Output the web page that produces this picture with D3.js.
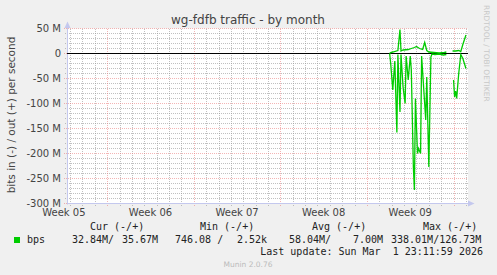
<!DOCTYPE html>
<html>
<head>
<meta charset="utf-8">
<script src="https://cdn.jsdelivr.net/npm/d3@7"></script>
<style>
  body { margin: 0; background: #f0f0f0; }
  svg { display: block; }
  text { font-family: "DejaVu Sans", sans-serif; }
  .mono { font-family: "DejaVu Sans Mono", monospace; font-size: 10px; fill: #222; white-space: pre; }
</style>
</head>
<body>
<svg width="497" height="275"></svg>
<script>
// values in Mbit/s
var outTimes = ["02-24 20","02-24 22","02-25 02","02-25 12","02-25 16","02-25 18","02-25 22","02-26 08",
  "02-26 14","02-26 20","02-27 00","02-27 06","02-27 12","02-27 16","02-27 20","02-28 00","02-28 10",
  "02-28 20","03-01 06","03-01 10","03-01 16","03-01 22","03-02 04","03-02 10","03-02 14","03-02 18","03-03 00"];
var outValues = [0, 2, 3, 6, 48, 5, 7, 8, 10, 12, 14, 10, 8, 22, 6, 3, 2, 1, 2, 3, null, 5, 5, 6, 4, 18, 37];

var inTimes = ["02-24 20","02-24 22","02-25 02","02-25 06","02-25 10","02-25 12","02-25 16","02-25 18",
  "02-25 22","02-26 02","02-26 04","02-26 08","02-26 12","02-26 14","02-26 18","02-26 20","02-26 22",
  "02-27 02","02-27 04","02-27 08","02-27 10","02-27 18","02-27 20","02-28 00","02-28 04","02-28 06",
  "02-28 12","02-28 20","03-01 04","03-01 10","03-01 16","03-02 00","03-02 02","03-02 04","03-02 06",
  "03-02 10","03-02 14","03-02 18","03-03 00"];
var inValues = [0, 20, 73, 15, 158, 2, 117, 2, 67, 100, 5, 53, 5, 33, 227, 273, 90, 200, 190, 200, 5,
  133, 47, 227, 7, 1, 2, 1, 3, 2, null, 53, 87, 75, 90, 40, 2, 10, 30];

var yTicks = [50, 0, -50, -100, -150, -200, -250, -300];
var legendHeads = ["Cur (-/+)", "Min (-/+)", "Avg (-/+)", "Max (-/+)"];
var legendVals = ["32.84M/", "35.67M", "746.08 /", "2.52k", "58.04M/", "7.00M", "338.01M/126.73M"];

var parse = d3.timeParse("%Y-%m-%d %H");
function toDate(s) { return parse("2026-" + s); }

var svg = d3.select("svg"),
    plotLeft = 67, plotRight = 468, plotTop = 28.5, plotBottom = 203.5;

// 12px per day, weeks start on monday
var x = d3.scaleTime()
    .domain([new Date(2026, 0, 29, 18), new Date(2026, 2, 3, 4)])
    .range([plotLeft, plotRight]);
var y = d3.scaleLinear().domain([-300, 50]).range([plotBottom, plotTop]);

svg.append("rect")
    .attr("x", plotLeft).attr("y", plotTop)
    .attr("width", plotRight - plotLeft).attr("height", plotBottom - plotTop)
    .attr("fill", "#ffffff");

var grid = svg.append("g").attr("stroke-dasharray", "1,1").attr("shape-rendering", "crispEdges");
var minorCol = "rgba(150,150,150,0.6)", majorCol = "rgba(235,120,120,0.55)";

// minor grid
grid.selectAll(".hmin")
  .data(d3.range(-300, 51, 10).filter(function(v) { return v % 50 != 0; }))
  .enter().append("line")
    .attr("x1", plotLeft - 2).attr("x2", plotRight)
    .attr("y1", function(d) { return y(d); }).attr("y2", function(d) { return y(d); })
    .attr("stroke", minorCol);
grid.selectAll(".vmin")
  .data(d3.timeDay.range(x.domain()[0], x.domain()[1]).filter(function(d) { return d.getDay() != 1; }))
  .enter().append("line")
    .attr("x1", function(d) { return Math.round(x(d)) + 0.5; })
    .attr("x2", function(d) { return Math.round(x(d)) + 0.5; })
    .attr("y1", plotTop).attr("y2", plotBottom + 2)
    .attr("stroke", minorCol);

// major grid
grid.selectAll(".hmaj")
  .data(yTicks)
  .enter().append("line")
    .attr("x1", plotLeft - 3).attr("x2", plotRight)
    .attr("y1", function(d) { return y(d); }).attr("y2", function(d) { return y(d); })
    .attr("stroke", majorCol);
grid.selectAll(".vmaj")
  .data(d3.timeMonday.range(x.domain()[0], x.domain()[1]))
  .enter().append("line")
    .attr("x1", function(d) { return Math.round(x(d)) + 0.5; })
    .attr("x2", function(d) { return Math.round(x(d)) + 0.5; })
    .attr("y1", plotTop).attr("y2", plotBottom + 3)
    .attr("stroke", majorCol);

// y labels
svg.selectAll(".ylab")
  .data(yTicks)
  .enter().append("text")
    .attr("x", 61)
    .attr("y", function(d) { return y(d) + 3.5; })
    .attr("text-anchor", "end")
    .attr("font-size", "10px")
    .attr("fill", "#444")
    .text(function(d) { return d == 0 ? "0" : d + " M"; });

// week labels in the middle of each week
var weekFmt = d3.timeFormat("Week %V");
svg.selectAll(".xlab")
  .data(d3.timeMonday.range(d3.timeMonday.floor(x.domain()[0]), x.domain()[1]).map(function(d) { return d3.timeHour.offset(d, 84); })
    .filter(function(d) { return d < x.domain()[1]; }))
  .enter().append("text")
    .attr("x", function(d) { return x(d); })
    .attr("y", 216)
    .attr("text-anchor", "middle")
    .attr("font-size", "10px")
    .attr("fill", "#444")
    .text(weekFmt);

// axes with arrows
var axc = "#c4c8ee";
svg.append("line").attr("x1", plotLeft + 0.5).attr("x2", plotLeft + 0.5).attr("y1", plotBottom + 1).attr("y2", 24)
  .attr("stroke", axc);
svg.append("path").attr("d", "M64.5,28L67.5,21.5L70.5,28Z").attr("fill", axc);
svg.append("line").attr("x1", plotLeft).attr("x2", 470).attr("y1", plotBottom).attr("y2", plotBottom)
  .attr("stroke", axc);
svg.append("path").attr("d", "M468,200.5L474.5,203.5L468,206.5Z").attr("fill", axc);

// zero line
svg.append("line").attr("x1", plotLeft).attr("x2", plotRight).attr("y1", y(0)).attr("y2", y(0))
  .attr("stroke", "#000").attr("shape-rendering", "crispEdges");

var line = d3.line()
    .defined(function(d) { return d.v != null; })
    .x(function(d) { return x(d.t); })
    .y(function(d) { return y(d.v); });

var outData = outTimes.map(function(t, i) { return {t: toDate(t), v: outValues[i]}; });
var inData = inTimes.map(function(t, i) { return {t: toDate(t), v: inValues[i] == null ? null : -inValues[i]}; });

svg.append("path").datum(inData).attr("d", line)
  .attr("fill", "none").attr("stroke", "#00cc00").attr("stroke-width", 1.3);
svg.append("path").datum(outData).attr("d", line)
  .attr("fill", "none").attr("stroke", "#00cc00").attr("stroke-width", 1.3);

// title and side texts
svg.append("text").attr("x", 248).attr("y", 24).attr("text-anchor", "middle")
  .attr("font-size", "12px").attr("fill", "#444").text("wg-fdfb traffic - by month");
svg.append("text").attr("transform", "translate(15,115) rotate(-90)").attr("text-anchor", "middle")
  .attr("font-size", "10.5px").attr("fill", "#444").text("bits in (-) / out (+) per second");
svg.append("text").attr("transform", "translate(484,5) rotate(90)")
  .attr("font-size", "7.5px").attr("fill", "#c8c8c8").text("RRDTOOL / TOBI OETIKER");

// legend
var headX = [90, 200, 312, 423];
svg.selectAll(".lh").data(legendHeads).enter().append("text")
  .attr("class", "mono").attr("x", function(d, i) { return headX[i]; }).attr("y", 230).text(function(d) { return d; });
svg.append("rect").attr("x", 14).attr("y", 237).attr("width", 6).attr("height", 6).attr("fill", "#00cc00");
svg.append("text").attr("class", "mono").attr("x", 27).attr("y", 243).text("bps");
var valX = [72, 122, 175, 237, 289, 353, 391];
svg.selectAll(".lv").data(legendVals).enter().append("text")
  .attr("class", "mono").attr("x", function(d, i) { return valX[i]; }).attr("y", 243).text(function(d) { return d; });
svg.append("text").attr("class", "mono").attr("x", 483).attr("y", 255).attr("text-anchor", "end")
  .text("Last update: Sun Mar  1 23:11:59 2026");
svg.append("text").attr("x", 248).attr("y", 267).attr("text-anchor", "middle")
  .attr("font-size", "7.5px").attr("fill", "#bbb").text("Munin 2.0.76");
</script>
</body>
</html>
